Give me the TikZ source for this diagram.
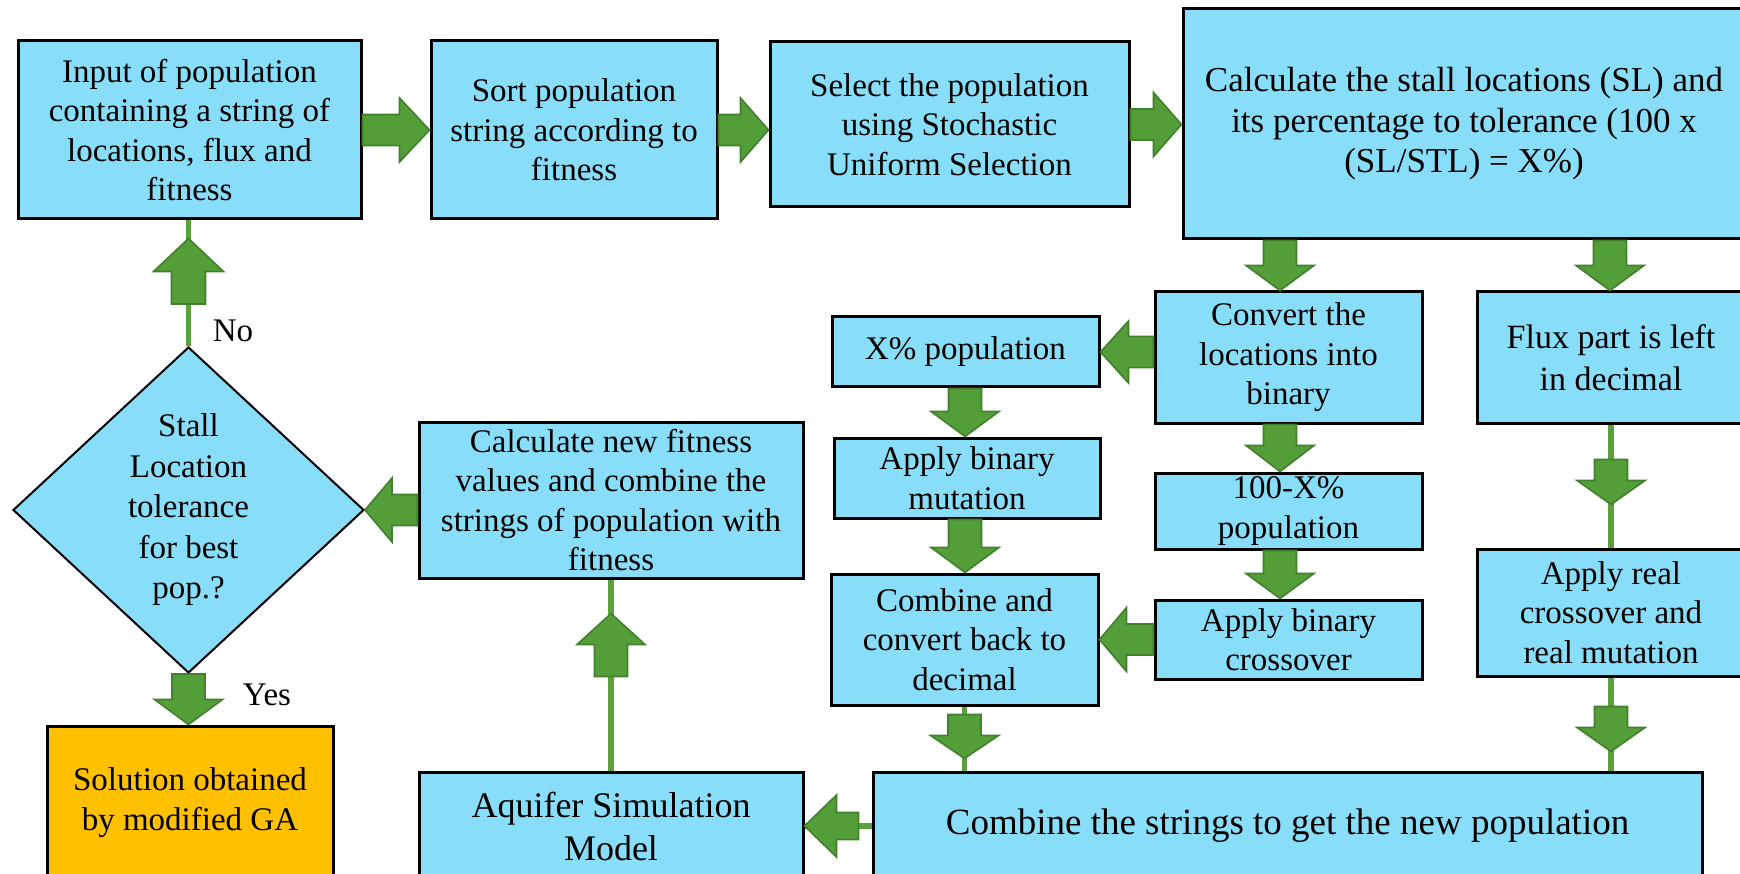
\documentclass[tikz,border=0pt]{standalone}
\usepackage{fontspec}
\setmainfont{Liberation Serif}
\usetikzlibrary{shapes.geometric,calc}

\definecolor{boxblue}{HTML}{88DEF8}
\definecolor{solorange}{HTML}{FFC000}
\definecolor{arrowfill}{HTML}{549E39}
\definecolor{arrowedge}{HTML}{41802C}
\definecolor{linkgreen}{HTML}{5BA23D}

% block arrow dimensions (half shaft width, half head width, head length)
\def\ashaft{16.5pt}
\def\ahead{34pt}
\def\alen{27pt}

\tikzset{
  arrow shaft/.store in=\ashaft,
  arrow head/.store in=\ahead,
  arrow len/.store in=\alen,
  blockarrow/.style={fill=arrowfill, draw=arrowedge, line width=1.6pt, line join=miter},
  link/.style={draw=linkgreen, line width=5.5pt},
  box/.style={draw=black, line width=3pt, fill=boxblue, align=center, inner sep=0pt,
              font=\fontsize{33}{39.5}\selectfont},
  lbl/.style={inner sep=0pt, font=\fontsize{33}{39.5}\selectfont},
}

% vertical block arrow from tail point to tip point
\newcommand{\vblock}[3][]{%
  \filldraw[blockarrow,#1] let \p1=(#2), \p2=(#3),
    \n1={2*(\y2>\y1)-1}, \n2={\y2-\n1*\alen} in
    ({\x1-\ashaft},\y1) -- ({\x1-\ashaft},{\n2*1pt}) -- ({\x1-\ahead},{\n2*1pt}) -- (\x1,\y2)
    -- ({\x1+\ahead},{\n2*1pt}) -- ({\x1+\ashaft},{\n2*1pt}) -- ({\x1+\ashaft},\y1) -- cycle;}

% horizontal block arrow from tail point to tip point
\newcommand{\hblock}[3][]{%
  \filldraw[blockarrow,#1] let \p1=(#2), \p2=(#3),
    \n1={2*(\x2>\x1)-1}, \n2={\x2-\n1*\alen} in
    (\x1,{\y1-\ashaft}) -- ({\n2*1pt},{\y1-\ashaft}) -- ({\n2*1pt},{\y1-\ahead}) -- (\x2,\y1)
    -- ({\n2*1pt},{\y1+\ahead}) -- ({\n2*1pt},{\y1+\ashaft}) -- (\x1,{\y1+\ashaft}) -- cycle;}

\begin{document}
\begin{tikzpicture}[x=1pt,y=-1pt]
\useasboundingbox (0,0) rectangle (1740,874);
\clip (0,0) rectangle (1740,874);

% ---- process boxes ----
\node[box, minimum width=343pt, minimum height=178pt] (input) at (189.5,130)
  {Input of population\\containing a string of\\locations, flux and\\fitness};
\node[box, minimum width=286pt, minimum height=178pt] (sort) at (574,130)
  {Sort population\\string according to\\fitness};
\node[box, minimum width=359pt, minimum height=165pt] (select) at (949.5,124.5)
  {Select the population\\using Stochastic\\Uniform Selection};
\node[box, minimum width=562pt, minimum height=230pt, font=\fontsize{35}{40.5}\selectfont] (sl) at (1464,124)
  {Calculate the stall locations (SL) and\\its percentage to tolerance (100 x\\(SL/STL) = X\%)};

\node[box, minimum width=267pt, minimum height=131pt] (convert) at (1288.5,357.5)
  {Convert the\\locations into\\binary};
\node[box, minimum width=268pt, minimum height=131pt, font=\fontsize{34}{42}\selectfont] (flux) at (1611,357.5)
  {Flux part is left\\in decimal};
\node[box, minimum width=267pt, minimum height=70pt] (xpop) at (965.5,352)
  {X\% population};
\node[box, minimum width=266pt, minimum height=80pt] (mutation) at (967,478)
  {Apply binary\\mutation};
\node[box, minimum width=267pt, minimum height=131pt] (decimal) at (964.5,639.5)
  {Combine and\\convert back to\\decimal};
\node[box, minimum width=267pt, minimum height=76pt] (hpop) at (1288.5,511)
  {100-X\%\\population};
\node[box, minimum width=267pt, minimum height=79pt] (cross) at (1288.5,639.5)
  {Apply binary\\crossover};
\node[box, minimum width=268pt, minimum height=127pt] (real) at (1611,612.5)
  {Apply real\\crossover and\\real mutation};
\node[box, minimum width=829pt, minimum height=108pt, font=\fontsize{37}{44}\selectfont] (combine) at (1287.5,826)
  {Combine the strings to get the new population};
\node[box, minimum width=384pt, minimum height=108pt, font=\fontsize{36}{43}\selectfont] (aquifer) at (611,826)
  {Aquifer Simulation\\Model};
\node[box, minimum width=384pt, minimum height=156pt] (fitness) at (611,500)
  {Calculate new fitness\\values and combine the\\strings of population with\\fitness};
\node[box, shape=diamond, line width=2pt, minimum width=351pt, minimum height=326pt,
      font=\fontsize{33}{40.5}\selectfont] (decision) at (188.5,510)
  {Stall\\Location\\tolerance\\for best\\pop.?};
\node[box, fill=solorange, minimum width=286pt, minimum height=154pt, font=\fontsize{33}{40}\selectfont] (solution) at (190,803)
  {Solution obtained\\by modified GA};

% ---- branch labels ----
\node[lbl] (no) at (233,331) {No};
\node[lbl] (yes) at (267,695) {Yes};

% ---- plain connector lines under detached block arrows ----
\draw[link] (decision.north) -- (decision.north |- input.south);
\draw[link] (flux.south) -- (flux.south |- real.north);
\draw[link] (real.south) -- (real.south |- combine.north);
\draw[link] (decimal.south) -- (decimal.south |- combine.north);
\draw[link] (aquifer.north) -- (aquifer.north |- fitness.south);
\draw[link] (combine.west) -- (combine.west -| aquifer.east);

% ---- block arrows ----
\hblock[arrow shaft=15.5pt, arrow head=32pt, arrow len=30pt]{input.east}{sort.west |- input.east}
\hblock[arrow shaft=15.5pt, arrow head=32pt, arrow len=28pt]{sort.east}{select.west |- sort.east}
\hblock[arrow shaft=15.5pt, arrow head=32pt, arrow len=28pt]{select.east}{sl.west |- select.east}

\coordinate (colA) at (1280,0);
\coordinate (colB) at (1610,0);
\coordinate (colC) at (965,0);
\vblock[arrow len=25pt]{colA |- sl.south}{colA |- convert.north}
\vblock[arrow len=25pt]{colB |- sl.south}{colB |- flux.north}
\vblock[arrow len=26pt]{colA |- convert.south}{colA |- hpop.north}
\vblock[arrow len=25pt]{colA |- hpop.south}{colA |- cross.north}
\vblock[arrow len=25pt]{colC |- xpop.south}{colC |- mutation.north}
\vblock[arrow len=25pt]{colC |- mutation.south}{colC |- decimal.north}

\hblock[arrow shaft=15.5pt, arrow head=31pt, arrow len=28pt]{convert.west |- xpop.east}{xpop.east}
\hblock[arrow shaft=15.5pt, arrow head=32pt, arrow len=27pt]{cross.west}{decimal.east |- cross.west}

\vblock[arrow len=24pt]{$(flux.south)+(0,35)$}{$(real.north)+(0,-43)$}
\vblock[arrow len=24pt]{$(real.south)+(0,29)$}{$(combine.north)+(0,-19)$}
\vblock[arrow len=23pt]{$(decimal.south)+(0,8)$}{$(combine.north)+(0,-12)$ -| decimal.south}

\hblock[arrow shaft=13.5pt, arrow head=31pt, arrow len=32pt]{$(combine.west)+(-13,0)$}{combine.west -| aquifer.east}
\vblock[arrow len=31pt]{$(aquifer.north)+(0,-94)$}{$(fitness.south)+(0,34)$}
\hblock[arrow shaft=15.5pt, arrow head=32pt, arrow len=27pt]{fitness.west |- decision.east}{decision.east}

\vblock[arrow len=33pt, arrow shaft=17pt, arrow head=35pt]{$(decision.north)+(0,-42)$}{$(input.south)+(0,18)$}
\vblock[arrow len=25pt]{decision.south}{solution.north}
\end{tikzpicture}
\end{document}
